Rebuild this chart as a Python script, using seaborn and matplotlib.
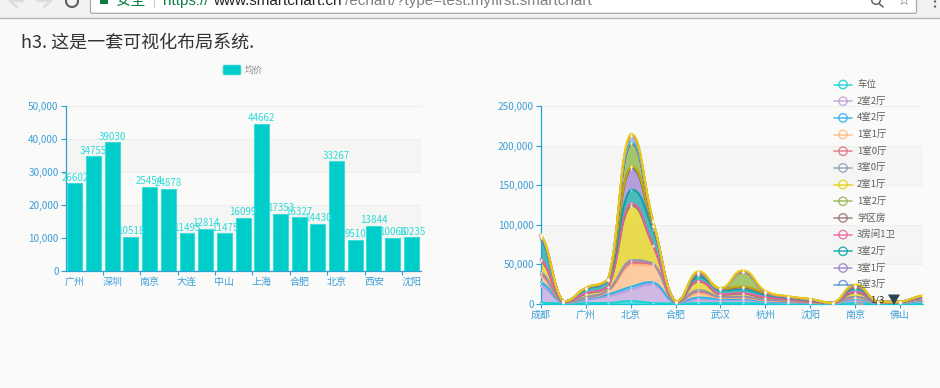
import numpy as np
import pandas as pd
import matplotlib
matplotlib.use("Agg")
import matplotlib.pyplot as plt
from matplotlib.patches import Rectangle, FancyBboxPatch, Circle, Arc, Polygon
import seaborn as sns

# ---------- data ----------
bar_values = [26602, 34755, 39030, 10518, 25454, 24878, 11495, 12814, 11475, 16099,
              44662, 17353, 16327, 14430, 33267, 9510, 13844, 10066, 10235]
bar_ticklabels = ["广州", "", "深圳", "", "南京", "", "大连", "", "中山", "", "上海", "",
                  "合肥", "", "北京", "", "西安", "", "沈阳"]
area_ticklabels = ["成都", "", "广州", "", "北京", "", "合肥", "", "武汉", "", "杭州", "",
                   "沈阳", "", "南京", "", "佛山", ""]
legend_names = ["车位", "2室2厅", "4室2厅", "1室1厅", "1室0厅", "3室0厅", "2室1厅", "1室2厅",
                "学区房", "3房间1卫", "3室2厅", "3室1厅", "5室3厅"]

s00 = [1000, 100, 500, 500, 3000, 500, 100, 500, 500, 500, 300, 200, 100, 50, 500, 100, 100, 200]
s01 = [21000, 500, 3500, 8500, 14000, 23500, 400, 4000, 3000, 3500, 1500, 1000, 600, 100, 3000, 400, 400, 2000]
s02 = [5000, 300, 1500, 2500, 4000, 3000, 300, 3000, 2000, 1500, 1000, 800, 400, 100, 2000, 200, 200, 1000]
s03 = [8000, 400, 1500, 4000, 27500, 21000, 300, 5000, 1500, 1500, 1000, 700, 400, 100, 1500, 300, 300, 1200]
s04 = [2000, 100, 500, 1000, 3500, 2000, 100, 2500, 1000, 1000, 1000, 600, 300, 50, 1000, 100, 100, 700]
s05 = [3000, 100, 500, 1000, 3000, 1000, 100, 2000, 500, 800, 500, 400, 200, 50, 500, 100, 100, 600]
s06 = [14000, 600, 4000, 3000, 68000, 22000, 400, 10500, 2500, 3500, 2000, 1000, 600, 100, 5000, 400, 400, 1000]
s07 = [500, 20, 50, 200, 800, 200, 20, 200, 100, 100, 100, 100, 30, 10, 100, 20, 20, 100]
s08 = [500, 20, 50, 200, 700, 200, 20, 200, 100, 100, 100, 100, 30, 10, 100, 20, 20, 100]
s09 = [1500, 100, 500, 600, 2200, 600, 100, 500, 600, 500, 500, 300, 200, 20, 1000, 100, 100, 500]
s10 = [25000, 300, 5000, 7000, 17300, 19000, 300, 5000, 4500, 5000, 3000, 1700, 1100, 100, 3800, 200, 200, 1000]
s11 = [2000, 100, 1000, 1000, 26000, 4000, 100, 3000, 1500, 2000, 1500, 800, 600, 50, 1500, 100, 100, 400]
s12 = [500, 30, 100, 100, 700, 300, 30, 300, 100, 300, 200, 100, 100, 10, 300, 30, 30, 100]
s13 = [500, 30, 150, 150, 1500, 500, 30, 400, 200, 400, 300, 150, 100, 10, 400, 30, 30, 150]
s14 = [300, 10, 50, 50, 400, 200, 10, 100, 50, 100, 100, 50, 50, 5, 100, 10, 10, 50]
s15 = [200, 10, 50, 50, 200, 200, 10, 100, 50, 100, 100, 50, 50, 5, 100, 10, 10, 50]
s16 = [500, 40, 200, 200, 700, 800, 40, 600, 300, 600, 500, 300, 200, 10, 400, 30, 30, 200]
s17 = [500, 10, 50, 50, 29000, 4000, 10, 500, 50, 18000, 500, 50, 50, 5, 300, 10, 10, 50]
s18 = [200, 10, 50, 50, 500, 200, 10, 100, 50, 100, 100, 50, 50, 5, 100, 10, 10, 50]
s19 = [200, 10, 50, 50, 500, 200, 10, 100, 50, 100, 100, 50, 50, 5, 100, 10, 10, 50]
s20 = [200, 20, 50, 50, 1000, 300, 20, 200, 100, 200, 100, 50, 50, 5, 200, 20, 20, 50]
s21 = [200, 20, 100, 100, 6000, 700, 20, 400, 200, 300, 200, 100, 100, 5, 300, 20, 20, 100]
s22 = [200, 10, 50, 50, 1000, 200, 10, 100, 50, 100, 100, 50, 50, 5, 100, 10, 10, 50]
s23 = [200, 10, 50, 50, 1000, 200, 10, 100, 50, 100, 100, 50, 50, 5, 100, 10, 10, 50]
s24 = [200, 10, 50, 50, 1000, 200, 10, 200, 100, 100, 100, 50, 50, 5, 100, 10, 10, 50]
s25 = [500, 40, 300, 300, 1500, 700, 40, 1300, 600, 1500, 1000, 500, 300, 30, 1400, 80, 80, 400]
area_series = [s00, s01, s02, s03, s04, s05, s06, s07, s08, s09, s10, s11, s12,
               s13, s14, s15, s16, s17, s18, s19, s20, s21, s22, s23, s24, s25]
palette = ['#12d2d2', '#bf9fdc', '#2fb0ee', '#ffb980', '#e0707c', '#8d98b3', '#e5cf0d', '#97b552',
           '#95706d', '#e8609f', '#07a2a4', '#9a7fd1', '#588dd5', '#f5994e', '#c05050', '#59678c',
           '#c9ab00', '#84b53a', '#6f5553', '#c14089', '#2ec7c9', '#b6a2de', '#5ab1ef', '#ffb980',
           '#d87a80', '#e5cf0d']

# ---------- style ----------
sns.set_theme(style="white")
plt.rcParams['font.family'] = ['Noto Sans CJK SC', 'DejaVu Sans']
W, H = 940, 388
BG = '#fafaf9'
AXC = '#2f9fd6'
LAB = '#3d9fd9'
TS = 7.2
fig = plt.figure(figsize=(W / 100, H / 100), dpi=100, facecolor=BG)

def axes_px(l, t, r, b):
    return fig.add_axes([l / W, 1 - b / H, (r - l) / W, (b - t) / H], facecolor='none')

def style_axis(ax, bands):
    for lo, hi in bands:
        ax.axhspan(lo, hi, color='#f5f5f3', lw=0, zorder=0)
    ax.grid(axis='y', color='#eeeeee', lw=0.8, zorder=0.5)
    ax.set_axisbelow(True)
    for s in ('top', 'right'):
        ax.spines[s].set_visible(False)
    for s in ('left', 'bottom'):
        ax.spines[s].set_color(AXC)
        ax.spines[s].set_linewidth(0.9)
    ax.yaxis.set_major_formatter(matplotlib.ticker.FuncFormatter(lambda v, _: f"{int(v):,}"))
    ax.tick_params(axis='y', length=3.5, width=0.8, color=AXC, labelcolor=LAB, labelsize=TS, pad=1.5, left=True)
    ax.set_xlabel('')
    ax.set_ylabel('')

# ---------- left: bars ----------
ax1 = axes_px(65.5, 106, 420.7, 271.3)
bx = np.arange(len(bar_values))
sns.barplot(x=bx, y=bar_values, color='#00cdc9', saturation=1, width=0.8, ax=ax1,
            edgecolor='#3fdcd8', linewidth=0.8, zorder=3)
ax1.set_xlim(-0.5, len(bar_values) - 0.5)
ax1.set_ylim(0, 50000)
ax1.set_yticks(range(0, 50001, 10000))
style_axis(ax1, [(10000, 20000), (30000, 40000)])
ax1.set_xticks(bx[::2])
ax1.set_xticklabels(bar_ticklabels[::2])
ax1.set_xticks(bx[1:-1:2] + 0.5, minor=True)
ax1.tick_params(axis='x', which='major', length=0, labelcolor=LAB, labelsize=TS, pad=4)
ax1.tick_params(axis='x', which='minor', length=3.2, width=0.8, color=AXC, bottom=True)
for c in ax1.containers:
    ax1.bar_label(c, labels=[str(v) for v in bar_values], color='#2fdcd8', fontsize=7.0, padding=0.5, zorder=5)

# ---------- right: stacked smooth areas ----------
ax2 = axes_px(540.7, 106, 922.7, 303.5)

def smooth_curve(y, n=20, k=0.25):
    """Smooth path through the given points; control points stay inside each segment's range."""
    y = np.asarray(y, float)
    prev = np.r_[y[0], y[:-1]]
    nxt = np.r_[y[1:], y[-1]]
    v = (nxt - prev) * k
    xs, ys = [], []
    t = np.linspace(0, 1, n, endpoint=False)
    for i in range(len(y) - 1):
        lo, hi = min(y[i], y[i + 1]), max(y[i], y[i + 1])
        c1 = np.clip(y[i] + v[i], lo, hi)
        c2 = np.clip(y[i + 1] - v[i + 1], lo, hi)
        xs.append(i + (3 * (1 - t) ** 2 * t * 0.5 + 3 * (1 - t) * t ** 2 * 0.5 + t ** 3))
        ys.append((1 - t) ** 3 * y[i] + 3 * (1 - t) ** 2 * t * c1 + 3 * (1 - t) * t ** 2 * c2 + t ** 3 * y[i + 1])
    return np.r_[np.concatenate(xs), len(y) - 1], np.r_[np.concatenate(ys), y[-1]]

ax_x = np.arange(len(area_ticklabels))
cum = np.cumsum(np.array(area_series, float), axis=0)
gx = smooth_curve(cum[0])[0]
lower = np.zeros_like(gx)
for i, col in enumerate(palette):
    _, upper = smooth_curve(cum[i])
    ax2.fill_between(gx, lower, upper, color=col, alpha=0.72, lw=0, zorder=2 + i * 0.01)
    ax2.plot(gx, upper, color=col, lw=1.4, zorder=3 + i * 0.01, clip_on=False, solid_capstyle='round')
    lower = upper
pts = pd.DataFrame({'x': np.tile(ax_x, cum.shape[0]), 'y': cum.ravel()})
sns.scatterplot(data=pts, x='x', y='y', color='#fff4ee', legend=False, s=2.2,
                ax=ax2, zorder=4, edgecolor=None, linewidth=0.0, alpha=0.6, clip_on=False)
ax2.set_xlim(0, len(ax_x) - 1)
ax2.set_ylim(0, 250000)
ax2.set_yticks(range(0, 250001, 50000))
style_axis(ax2, [(50000, 100000), (150000, 200000)])
ax2.spines['left'].set_color('#1fa3dc')
ax2.spines['bottom'].set_color('#12c4d8')
ax2.set_xticks(ax_x[::2])
ax2.set_xticklabels(area_ticklabels[::2])
ax2.tick_params(axis='x', length=3.2, width=0.8, color=AXC, labelcolor=LAB, labelsize=TS, pad=1.5, bottom=True)

# ---------- page overlay in pixel coordinates ----------
ov = fig.add_axes([0, 0, 1, 1], facecolor='none', zorder=10)
ov.set_xlim(0, W)
ov.set_ylim(H, 0)
ov.axis('off')

# browser chrome
ov.add_patch(Rectangle((0, 0), W, 18, fc='#f2f2f2', ec='none'))
ov.plot([0, W], [18.3, 18.3], color='#b5afaf', lw=0.9)
ov.add_patch(FancyBboxPatch((90.5, -8), 356 + 470, 21.3, boxstyle='round,pad=0,rounding_size=2',
                            fc='white', ec='#aaaaaa', lw=0.9))
box = Rectangle((91, 0), 825, 12.8, transform=ov.transData)
for tx, ty, txt, col in [(116, 1, "安全", '#0b8043'),
                         (163, 1, "https://", '#0b8043'),
                         (213, 1, "www.smartchart.cn", '#222222'),
                         (345, 1, "/echart/?type=test.myfirst.smartchart", '#808080')]:
    t = ov.text(tx, ty, txt, color=col, fontsize=11, va='center', ha='left',
                family=['Liberation Sans', 'Noto Sans CJK SC'])
    t.set_clip_path(box)
ov.add_patch(Rectangle((100, 0), 8, 4, fc='#0b8043', ec='none'))
ov.plot([153.5, 153.5], [0, 7], color='#c8c8c8', lw=0.8)
ov.plot([10, 23], [1, 1], color='#dcdcdc', lw=1.6)
ov.plot([10, 17], [1, 7], color='#dcdcdc', lw=1.6)
ov.plot([37, 51], [1, 1], color='#dcdcdc', lw=1.6)
ov.plot([51, 44], [1, 7], color='#dcdcdc', lw=1.6)
ov.add_patch(Arc((72, 1), 12, 12, theta1=-10, theta2=200, color='#5f5f5f', lw=1.5))
ov.add_patch(Circle((876, 0), 4.3, fc='none', ec='#666666', lw=1.1))
ov.plot([879, 883], [3.5, 7], color='#666666', lw=1.2)
ov.text(903, 1, "☆", color='#555555', fontsize=10, ha='center', va='center', family='DejaVu Sans')
for yy in (1.5, 6.5):
    ov.add_patch(Circle((935, yy), 1.2, fc='#666666', ec='none'))

# heading
ov.text(21, 43, "h3. 这是一套可视化布局系统.", color='#333333', fontsize=13, ha='left', va='center')

# legend of the bars
ov.add_patch(FancyBboxPatch((223, 65), 18, 10, boxstyle='round,pad=0,rounding_size=1.5',
                            fc='#00cdc9', ec='#66e2de', lw=0.5))
ov.text(245, 70.5, "均价", color='#888888', fontsize=6.5, ha='left', va='center')

# legend of the areas
clip = Rectangle((820, 70), 110, 216, transform=ov.transData)
for i, name in enumerate(legend_names):
    yy = 84.5 + i * 16.68
    col = palette[i]
    l1, = ov.plot([834, 852], [yy, yy], color=col, lw=1.2, alpha=0.8)
    c = Circle((843, yy), 4.2, fc=BG, ec=col, lw=1.0, alpha=0.85)
    ov.add_patch(c)
    t = ov.text(857, yy, name, color='#5c5c5c', fontsize=6.8, ha='left', va='center')
    for art in (l1, c, t):
        art.set_clip_path(clip)
ov.add_patch(Polygon([(856, 305), (864, 305), (860, 296.5)], fc='#aaaaaa', ec='none', alpha=0.9))
ov.text(877, 300.5, "1/3", color='#333333', fontsize=6.8, ha='center', va='center')
ov.add_patch(Polygon([(888, 294.5), (900, 294.5), (894, 305)], fc='#2f4554', ec='none'))

fig.savefig('out.png', dpi=100, facecolor=BG)
